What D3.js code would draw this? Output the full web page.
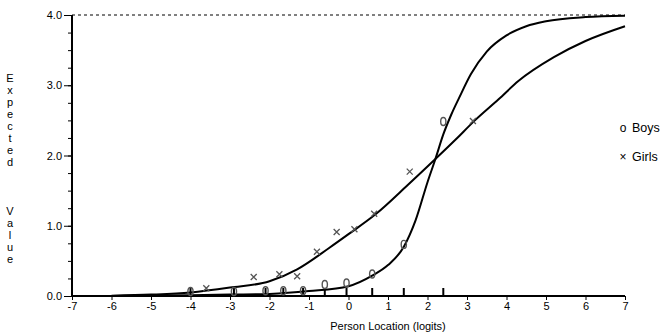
<!DOCTYPE html>
<html>
<head>
<meta charset="utf-8">
<script src="https://cdn.jsdelivr.net/npm/d3@7"></script>
<style>
  body { margin: 0; background: #fff; }
  svg { display: block; font-family: "Liberation Sans", Arial, sans-serif; }
  .tick text { font-size: 11px; fill: #000; }
</style>
</head>
<body>
<div id="chart"></div>
<script>
// expected value curves
const boysCurveX = [-6, -4, -3, -2, -1, 0, 0.6, 1.0, 1.4, 1.7, 2.0, 2.2, 2.4, 2.6, 2.8, 3.1, 3.5, 4.0, 4.5, 5.0, 6.0, 7.0];
const boysCurveV = [0, 0.01, 0.02, 0.03, 0.07, 0.14, 0.29, 0.44, 0.70, 1.08, 1.62, 1.95, 2.30, 2.58, 2.82, 3.16, 3.48, 3.71, 3.84, 3.91, 3.97, 3.99];
const girlsCurveX = [-6, -5, -4, -3, -2, -1.3, -0.5, 0, 0.7, 1.5, 2.2, 2.7, 3.2, 3.8, 4.3, 5.2, 6.0, 7.0];
const girlsCurveV = [0.005, 0.02, 0.05, 0.12, 0.21, 0.38, 0.68, 0.88, 1.17, 1.58, 1.95, 2.22, 2.50, 2.80, 3.06, 3.40, 3.63, 3.84];

// observed class means
const boysX = [-4.0, -2.9, -2.1, -1.65, -1.15, -0.6, -0.05, 0.6, 1.4, 2.4];
const boysV = [0.05, 0.05, 0.06, 0.06, 0.06, 0.15, 0.17, 0.30, 0.72, 2.47];
const girlsX = [-3.6, -2.4, -1.75, -1.3, -0.8, -0.3, 0.15, 0.65, 1.55, 3.15];
const girlsV = [0.11, 0.27, 0.31, 0.28, 0.63, 0.91, 0.95, 1.17, 1.77, 2.49];

const xTicks = [-7, -6, -5, -4, -3, -2, -1, 0, 1, 2, 3, 4, 5, 6, 7];
const yTicks = [0, 1, 2, 3, 4];
const yMinorTicks = d3.range(0, 4.01, 0.25);
const legendLabels = ["Boys", "Girls"];
const legendMarks = ["o", "\u00d7"];

const W = 672, H = 336;
const svg = d3.select("#chart").append("svg").attr("width", W).attr("height", H);

const x = d3.scaleLinear().domain([-7, 7]).range([72, 625]);
const y = d3.scaleLinear().domain([0, 4]).range([296, 15]);

// dashed line at the maximum score
svg.append("line")
  .attr("x1", x(-7)).attr("x2", x(7))
  .attr("y1", y(4)).attr("y2", y(4))
  .attr("stroke", "#000").attr("stroke-width", 1)
  .attr("stroke-dasharray", "3,3");

// axes
const xAxis = svg.append("g")
  .attr("transform", `translate(0,${y(0)})`)
  .call(d3.axisBottom(x).tickValues(xTicks).tickSize(4).tickPadding(2).tickFormat(d => String(d)));
xAxis.select(".domain").remove();

const yMinor = svg.append("g")
  .attr("transform", `translate(${x(-7)},0)`)
  .call(d3.axisLeft(y).tickValues(yMinorTicks).tickSize(4).tickFormat(""));
yMinor.select(".domain").remove();

const yAxis = svg.append("g")
  .attr("transform", `translate(${x(-7)},0)`)
  .call(d3.axisLeft(y).tickValues(yTicks).tickSize(8).tickPadding(2).tickFormat(d3.format(".1f")));
yAxis.select(".domain").remove();

svg.append("line")
  .attr("x1", x(-7)).attr("x2", x(-7)).attr("y1", y(4)).attr("y2", y(0) + 1)
  .attr("stroke", "#000").attr("stroke-width", 2);
svg.append("line")
  .attr("x1", x(-7) - 1).attr("x2", x(7)).attr("y1", y(0)).attr("y2", y(0))
  .attr("stroke", "#000").attr("stroke-width", 2);

// class interval markers on the axis
svg.append("g").selectAll("line")
  .data(boysX)
  .join("line")
  .attr("x1", d => x(d)).attr("x2", d => x(d))
  .attr("y1", y(0)).attr("y2", y(0) - 8)
  .attr("stroke", "#000").attr("stroke-width", 2);

// curves
const line = d3.line()
  .x(d => x(d[0]))
  .y(d => y(d[1]))
  .curve(d3.curveMonotoneX);

svg.append("path")
  .datum(d3.zip(girlsCurveX, girlsCurveV))
  .attr("d", line)
  .attr("fill", "none").attr("stroke", "#000").attr("stroke-width", 2);
svg.append("path")
  .datum(d3.zip(boysCurveX, boysCurveV))
  .attr("d", line)
  .attr("fill", "none").attr("stroke", "#000").attr("stroke-width", 2);

// observed points: o for boys, x for girls
svg.append("g").selectAll("ellipse")
  .data(d3.zip(boysX, boysV))
  .join("ellipse")
  .attr("cx", d => x(d[0]))
  .attr("cy", d => y(d[1]) - 1)
  .attr("rx", 2.6).attr("ry", 4)
  .attr("fill", "none")
  .attr("stroke", "#555").attr("stroke-width", 1.4);

svg.append("g").selectAll("path")
  .data(d3.zip(girlsX, girlsV))
  .join("path")
  .attr("transform", d => `translate(${x(d[0])},${y(d[1])})`)
  .attr("d", "M-3,-3L3,3M-3,3L3,-3")
  .attr("stroke", "#555").attr("stroke-width", 1.3);

// legend
const legend = svg.append("g");
legendLabels.forEach((lab, i) => {
  const yy = 132 + i * 29;
  legend.append("text")
    .attr("x", 623).attr("y", yy)
    .attr("text-anchor", "middle")
    .attr("font-size", 12)
    .text(legendMarks[i]);
  legend.append("text")
    .attr("x", 632).attr("y", yy)
    .attr("font-size", 12.5)
    .text(lab);
});

// axis titles
svg.append("text")
  .attr("x", 388).attr("y", 330)
  .attr("text-anchor", "middle")
  .attr("font-size", 11)
  .text("Person Location (logits)");

const yTitle = svg.append("text")
  .attr("font-size", 11)
  .attr("text-anchor", "middle");
const yWords = ["Expected", "Value"];
const yWordStart = [82, 215];
yWords.forEach((w, wi) => {
  w.split("").forEach((ch, ci) => {
    yTitle.append("tspan").attr("x", 10).attr("y", yWordStart[wi] + ci * 12).text(ch);
  });
});
</script>
</body>
</html>
